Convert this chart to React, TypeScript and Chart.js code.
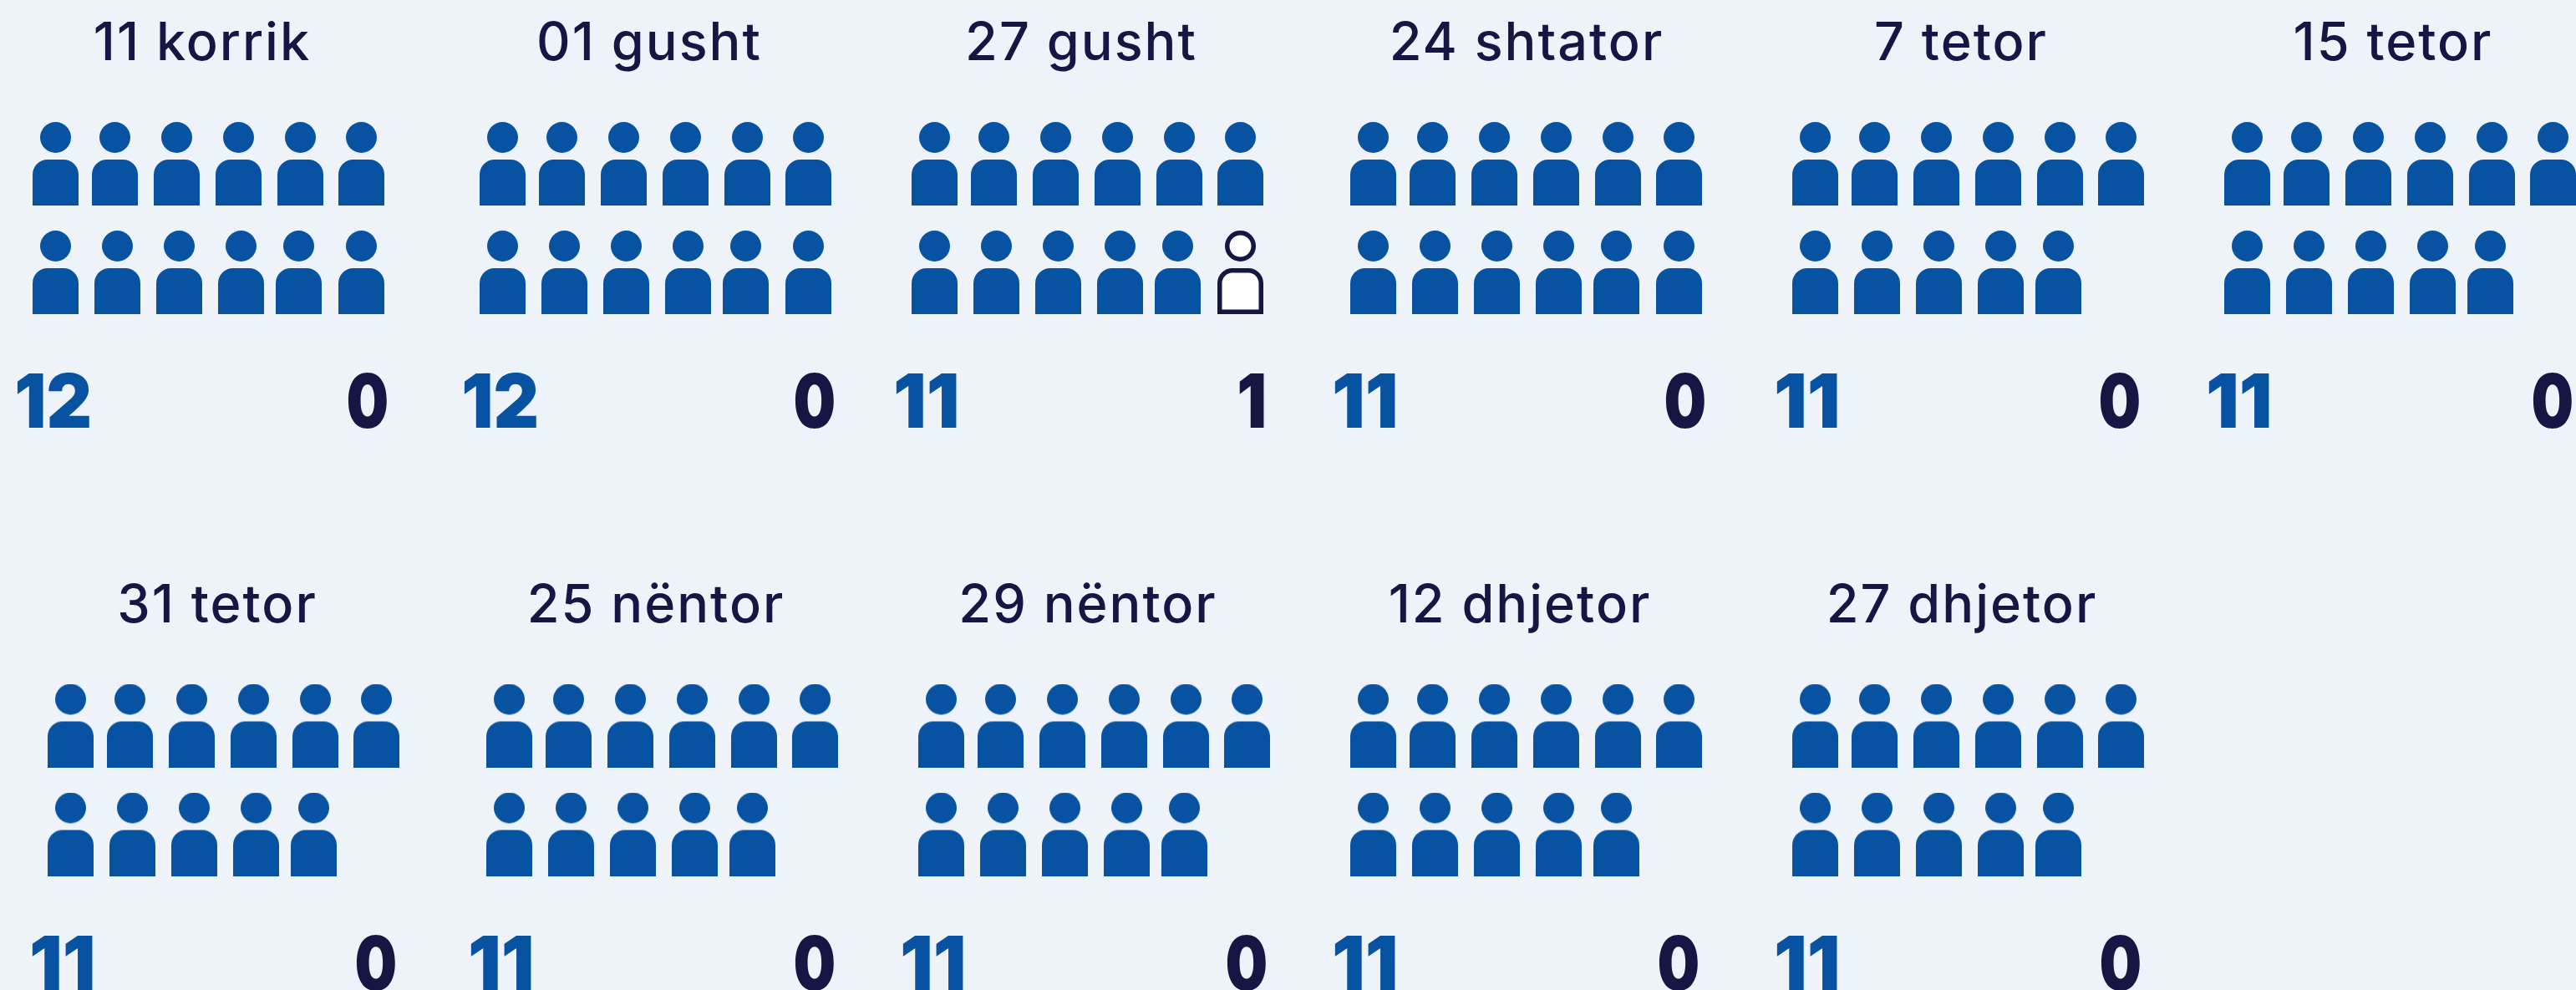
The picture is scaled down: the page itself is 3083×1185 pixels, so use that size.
import React, { useEffect, useRef } from "react";
import { Chart, registerables } from "chart.js";

Chart.register(...registerables);

// ---- data ----
const dates = [
  "11 korrik", "01 gusht", "27 gusht", "24 shtator", "7 tetor", "15 tetor",
  "31 tetor", "25 nëntor", "29 nëntor", "12 dhjetor", "27 dhjetor",
];
const blueLabels = [12, 12, 11, 11, 11, 11, 11, 11, 11, 11, 11];
const outlineLabels = [0, 0, 1, 0, 0, 0, 0, 0, 0, 0, 0];
const blueIcons = [12, 12, 11, 12, 11, 11, 11, 11, 11, 11, 11];
const outlineIcons = [0, 0, 1, 0, 0, 0, 0, 0, 0, 0, 0];

// ---- layout (page pixels, the x/y scales span the page) ----
const WIDTH = 3083;
const HEIGHT = 1185;
const BG = "#EEF3FA";
const BLUE = "#0753A1";
const DARK = "#171544";
const PANEL_LEFT = [39, 574, 1091, 1616, 2145, 2662, 57, 582, 1099, 1616, 2145];
const PANEL_ROW = [0, 0, 0, 0, 0, 0, 1, 1, 1, 1, 1];
const TITLE_CENTER = [241, 776, 1293, 1826, 2346, 2863, 259, 784, 1301, 1818, 2347];
const RIGHT_NUM_EDGE = [463, 998, 1513, 2040, 2560, 3078, 473, 998, 1515, 2032, 2561];
const ROW_STEP = 672.5;
const SLOT_X = [
  [0, 71, 145, 219, 293, 366],
  [0, 74, 148, 222, 291, 366],
];
const SLOT_Y = [196, 326];
const TITLE_BASE = 72;
const NUM_BASE = 512;
const NUM_INK: Record<string, number> = { "12": 87, "11": 73, "0": 46, "1": 30 };

function personSprite(fill: string, stroke: string | null) {
  const c = document.createElement("canvas");
  c.width = 55;
  c.height = 100;
  const g = c.getContext("2d")!;
  const lw = stroke ? 5.5 : 0;
  g.fillStyle = fill;
  g.beginPath();
  g.arc(27.5, 18.5, 18.5 - lw / 2, 0, Math.PI * 2);
  g.fill();
  if (stroke) {
    g.lineWidth = lw;
    g.strokeStyle = stroke;
    g.stroke();
  }
  g.beginPath();
  const i = lw / 2;
  g.moveTo(i, 100 - i);
  g.lineTo(i, 45 + 18);
  g.arcTo(i, 45 + i, 18, 45 + i, 18 - i);
  g.lineTo(37, 45 + i);
  g.arcTo(55 - i, 45 + i, 55 - i, 63, 18 - i);
  g.lineTo(55 - i, 100 - i);
  g.closePath();
  g.fill();
  if (stroke) {
    g.stroke();
  }
  return c;
}

function slotPoint(panel: number, slot: number) {
  const row = slot < 6 ? 0 : 1;
  const col = slot % 6;
  return {
    x: PANEL_LEFT[panel] + 27.5 + SLOT_X[row][col],
    y: SLOT_Y[row] + PANEL_ROW[panel] * ROW_STEP,
  };
}

function bluePoints() {
  const out: { x: number; y: number }[] = [];
  blueIcons.forEach((n, p) => {
    for (let s = 0; s < n; s++) out.push(slotPoint(p, s));
  });
  return out;
}

function outlinePoints() {
  const out: { x: number; y: number }[] = [];
  outlineIcons.forEach((n, p) => {
    for (let s = 0; s < n; s++) out.push(slotPoint(p, blueIcons[p] + s));
  });
  return out;
}

const labelsPlugin = {
  id: "panelLabels",
  afterDatasetsDraw(chart: any) {
    const { ctx, scales } = chart;
    const xs = scales.x;
    const ys = scales.y;
    ctx.save();
    ctx.textBaseline = "alphabetic";
    dates.forEach((d, p) => {
      const off = PANEL_ROW[p] * ROW_STEP;
      ctx.fillStyle = DARK;
      ctx.textAlign = "center";
      ctx.font = '500 63px "Inter"';
      ctx.letterSpacing = "2px";
      ctx.fillText(d, xs.getPixelForValue(TITLE_CENTER[p] + 1), ys.getPixelForValue(TITLE_BASE + off));
      ctx.letterSpacing = "0px";

      const drawNum = (txt: string, color: string, inkLeft: number | null, inkRight: number | null) => {
        ctx.save();
        ctx.fillStyle = color;
        ctx.textAlign = "left";
        ctx.font = '900 90px "Inter"';
        const m = ctx.measureText(txt);
        const ink = m.actualBoundingBoxRight + m.actualBoundingBoxLeft;
        const sx = NUM_INK[txt] / ink;
        const left = inkLeft !== null ? inkLeft : (inkRight as number) - NUM_INK[txt];
        ctx.translate(xs.getPixelForValue(left), ys.getPixelForValue(NUM_BASE + off));
        ctx.scale(sx, 1);
        ctx.fillText(txt, m.actualBoundingBoxLeft, 0);
        ctx.restore();
      };
      drawNum(String(blueLabels[p]), BLUE, PANEL_LEFT[p] - 19, null);
      drawNum(String(outlineLabels[p]), DARK, null, RIGHT_NUM_EDGE[p]);
    });
    ctx.restore();
  },
};

export default function App() {
  const ref = useRef<HTMLCanvasElement | null>(null);
  useEffect(() => {
    document.documentElement.style.overflow = "hidden";
    document.body.style.margin = "0";
    document.body.style.background = BG;
    const chart = new Chart(ref.current!, {
      type: "scatter",
      data: {
        datasets: [
          {
            label: "Blue",
            data: bluePoints(),
            pointStyle: personSprite(BLUE, null) as any,
            pointRadius: 27,
            clip: false as any,
          },
          {
            label: "Outline",
            data: outlinePoints(),
            pointStyle: personSprite("#FFFFFF", DARK) as any,
            pointRadius: 27,
            clip: false as any,
          },
        ],
      },
      options: {
        animation: false,
        responsive: false,
        events: [],
        layout: { padding: 0, autoPadding: false },
        plugins: { legend: { display: false }, tooltip: { enabled: false }, title: { display: false } },
        scales: {
          x: { type: "linear", min: 0, max: WIDTH, display: false },
          y: { type: "linear", min: 0, max: HEIGHT, reverse: true, display: false },
        },
      },
      plugins: [labelsPlugin],
    });
    return () => chart.destroy();
  }, []);
  return (
    <div style={{ position: "fixed", left: 0, top: 0, width: WIDTH, height: HEIGHT, background: BG }}>
      <canvas ref={ref} width={WIDTH} height={HEIGHT} style={{ display: "block" }} />
    </div>
  );
}
